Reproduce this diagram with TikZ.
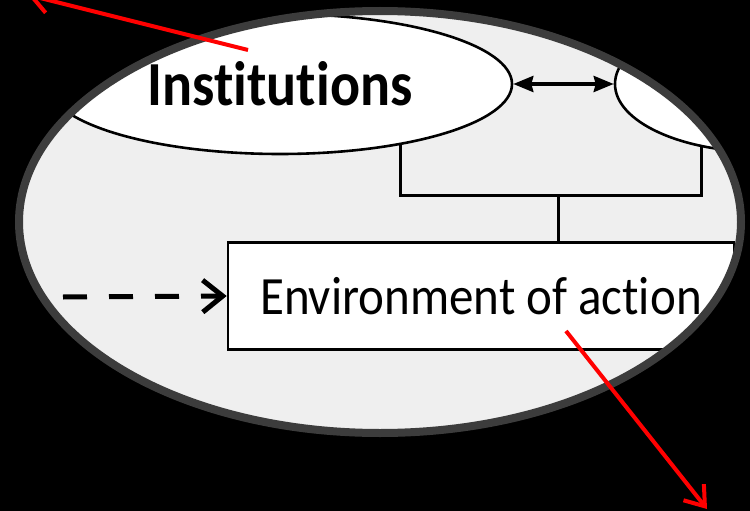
\documentclass[tikz,border=0pt]{standalone}
\usepackage{fontspec}
\setmainfont{Carlito}[Ligatures=NoCommon]
\usetikzlibrary{arrows.meta,shapes.geometric}
\definecolor{bgfill}{HTML}{EFEFEF}
\definecolor{rimgray}{HTML}{3C3C3C}
\definecolor{redline}{HTML}{FF0000}
\begin{document}
\begin{tikzpicture}[x=1pt,y=-1pt,
  ovalnode/.style={ellipse,draw=black,fill=white,line width=2.6pt,inner sep=0pt},
  envbox/.style={rectangle,draw=black,fill=white,line width=2.6pt,inner sep=0pt,
    minimum width=506pt,minimum height=107pt,font=\fontsize{49}{54}\selectfont},
  bracketline/.style={draw=black,line width=3pt},
  dblarrow/.style={draw=black,line width=3.5pt,{Stealth[length=20pt,width=16pt,inset=2pt]}-{Stealth[length=20pt,width=16pt,inset=2pt]}},
  dasharrow/.style={draw=black,line width=5pt,dash pattern=on 24pt off 22pt,-{Straight Barb[length=20pt,width=32pt]}},
  redarrow/.style={draw=redline,line width=4pt,-{Straight Barb[length=18pt,width=26pt]}}
]
\useasboundingbox (0,0) rectangle (750,511);
\fill[black] (0,0) rectangle (750,511);
\fill[bgfill] (380,222) ellipse [x radius=362, y radius=212];
\begin{scope}
  \clip (380,222) ellipse [x radius=362, y radius=212];
  \node[ovalnode,minimum width=464pt,minimum height=140pt,font=\bfseries\fontsize{56}{60}\selectfont] (inst) at (280,84) {\raisebox{-5pt}{\scalebox{1}[1.12]{Institutions}}};
  \node[ovalnode,minimum width=294pt,minimum height=136pt] (other) at (762,84) {};
  \draw[dblarrow] (inst.east) -- (other.west);
  \coordinate (bm) at (558,195);
  \node[envbox] (env) at (481,296) {\raisebox{-4pt}{\scalebox{1}[1.1]{Environment of action}}};
  \draw[bracketline] (inst.-27) |- (bm) -| (other.-134);
  \draw[bracketline] (bm) -- (env.north -| bm);
  \coordinate (dstart) at (63,297);
  \draw[dasharrow] (dstart) -- (env.west);
\end{scope}
\draw[rimgray,line width=8pt] (380,222) ellipse [x radius=361, y radius=211];
\coordinate (r1a) at (248,50);
\coordinate (r1b) at (28,-5);
\draw[redarrow] (r1a) -- (r1b);
\coordinate (r2a) at (566,331);
\coordinate (r2b) at (707,509);
\draw[redarrow] (r2a) -- (r2b);
\end{tikzpicture}
\end{document}
